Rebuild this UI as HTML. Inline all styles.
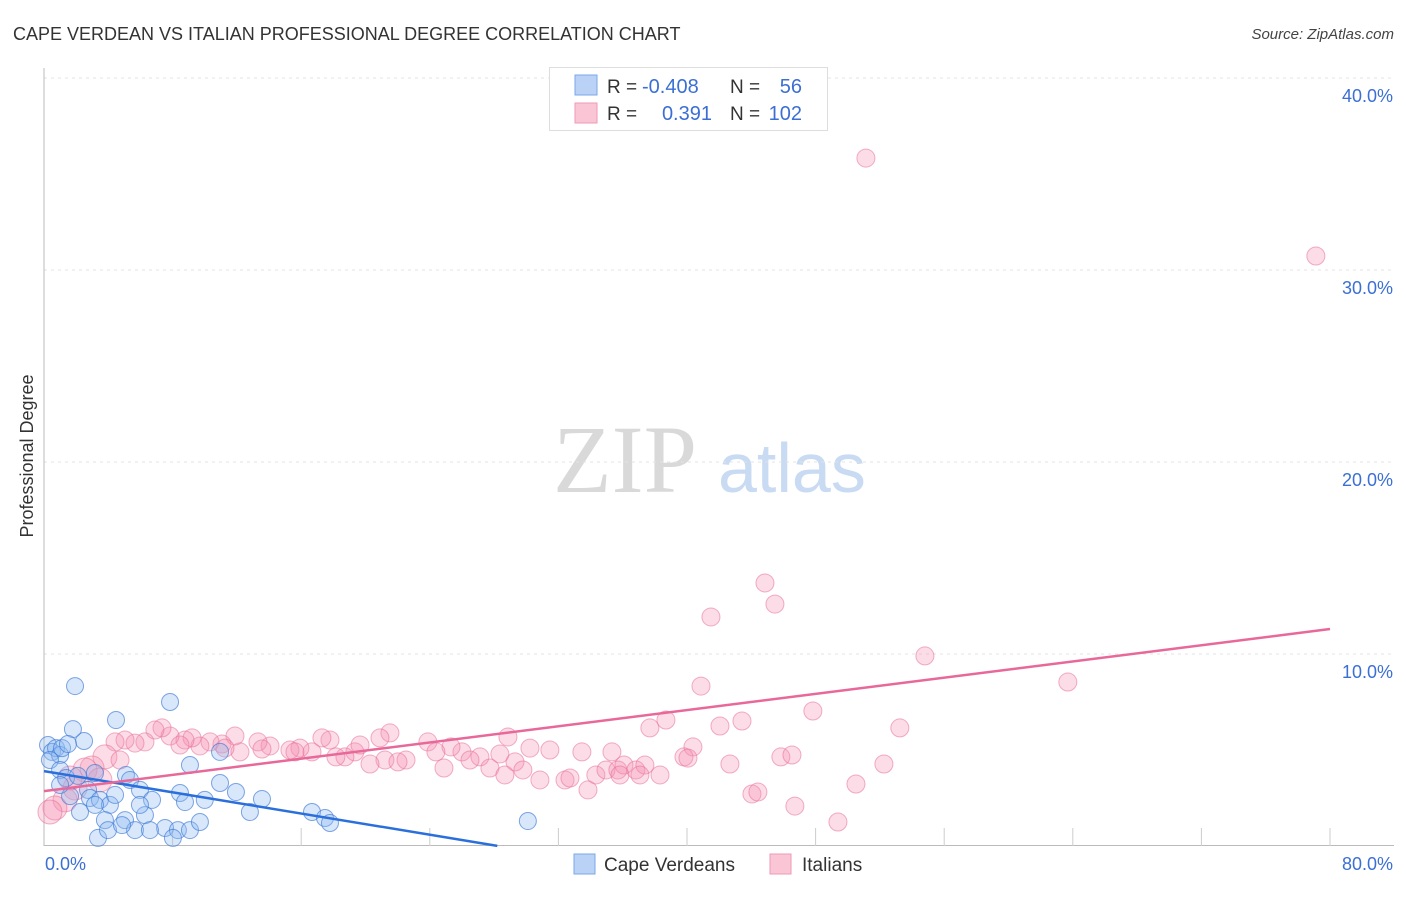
<!DOCTYPE html>
<html><head><meta charset="utf-8"><style>
body{margin:0;background:#fff;font-family:"Liberation Sans",sans-serif;}
svg text{font-family:"Liberation Sans",sans-serif;}
</style></head><body>
<svg id="chart" width="1406" height="892" xmlns="http://www.w3.org/2000/svg">
<text x="13" y="40" font-size="18" fill="#333">CAPE VERDEAN VS ITALIAN PROFESSIONAL DEGREE CORRELATION CHART</text>
<text x="1394" y="39" font-size="15" font-style="italic" fill="#444" text-anchor="end">Source: ZipAtlas.com</text>
<g>
<text x="553" y="492" style="font-family:'Liberation Serif',serif" font-size="96" fill="#d9d9d9">ZIP</text>
<text x="718" y="492" font-size="70" fill="#c9daf3">atlas</text>
</g>
<g id="grid"></g>
<g id="axes"></g>
<g id="pts"></g>
<g id="trends"></g>
<text transform="translate(33,456) rotate(-90)" font-size="18" fill="#333" text-anchor="middle">Professional Degree</text>
<g>
<rect x="549.5" y="67.5" width="278" height="63" fill="#fff" stroke="#ddd"/>
<rect x="575" y="75" width="22" height="20" fill="#b9d2f5" stroke="#7aa7e8"/>
<rect x="575" y="103" width="22" height="20" fill="#fac6d6" stroke="#ef9ab6"/>
<text x="607" y="93" font-size="19" fill="#333">R = </text><text x="642" y="93" font-size="20" fill="#3b6fd4">-0.408</text>
<text x="730" y="93" font-size="19" fill="#333">N = </text><text x="802" y="93" font-size="20" fill="#3b6fd4" text-anchor="end">56</text>
<text x="607" y="120" font-size="19" fill="#333">R = </text><text x="712" y="120" font-size="20" fill="#3b6fd4" text-anchor="end">0.391</text>
<text x="730" y="120" font-size="19" fill="#333">N = </text><text x="802" y="120" font-size="20" fill="#3b6fd4" text-anchor="end">102</text>
</g>
<g>
<rect x="574" y="854" width="21" height="20" fill="#b9d2f5" stroke="#7aa7e8"/>
<text x="604" y="871" font-size="19" fill="#333">Cape Verdeans</text>
<rect x="770" y="854" width="21" height="20" fill="#fac6d6" stroke="#ef9ab6"/>
<text x="802" y="871" font-size="19" fill="#333">Italians</text>
</g>
</svg>
<script>
const yTicks=[10,20,30,40];
const yTickLabels=["10.0%","20.0%","30.0%","40.0%"];
const xEnds=[0,80];
const xEndLabels=["0.0%","80.0%"];
const blueX=[0.25,0.5,0.75,1.0,0.37,1.12,1.93,2.49,1.8,1.49,1.0,1.37,2.11,3.17,2.74,1.62,2.24,2.86,3.48,4.1,4.42,3.79,4.48,5.1,5.35,5.97,6.72,5.04,5.66,6.28,7.84,9.08,8.46,8.77,10.0,10.95,10.95,11.94,12.81,13.56,7.53,8.33,9.08,9.7,8.02,3.36,16.67,17.48,17.79,30.1,3.98,4.85,1.0,3.17,5.97,6.59];
const blueY=[5.26,4.9,5.1,4.74,4.48,5.1,8.33,5.47,6.09,5.31,3.96,3.54,3.65,3.8,2.92,2.6,1.77,2.5,2.4,2.14,2.66,1.35,6.56,3.7,3.44,2.92,2.4,1.35,0.83,1.61,7.5,4.22,2.76,2.29,2.4,4.9,3.28,2.81,1.77,2.45,0.94,0.83,0.83,1.25,0.42,0.42,1.77,1.46,1.2,1.3,0.83,1.09,3.18,2.14,2.14,0.83];
const pinkX=[51.13,79.12,44.85,41.49,45.47,54.8,63.69,40.87,47.83,53.24,43.42,42.05,38.69,37.69,40.37,39.81,33.46,35.33,31.47,30.23,28.86,29.3,27.12,27.74,26.0,24.88,25.32,23.88,22.52,21.52,20.9,21.21,20.28,19.34,18.72,17.79,17.29,16.67,15.92,15.3,14.06,13.31,12.19,11.88,11.07,10.33,9.7,9.21,8.77,7.84,7.34,6.9,6.28,5.66,5.04,4.42,3.79,2.99,2.55,1.93,1.31,0.68,0.37,1.62,3.48,8.46,11.26,13.56,15.61,18.16,19.66,22.02,24.38,26.5,28.36,29.79,30.85,32.41,33.84,34.33,34.96,35.7,36.08,36.82,37.38,38.32,40.06,42.67,44.04,44.41,45.84,46.53,46.71,49.39,50.51,52.25,32.72,37.07,35.83,28.67,4.73];
const pinkY=[35.83,30.73,13.7,11.93,12.6,9.9,8.54,8.33,7.03,6.15,6.51,6.25,6.56,6.15,5.16,4.64,4.9,4.9,5.0,5.1,5.68,4.38,4.64,4.06,4.9,4.06,5.16,5.42,4.48,5.89,5.63,4.48,4.27,4.9,4.64,5.52,5.63,4.9,5.1,5.0,5.21,5.42,4.9,5.73,5.31,5.42,5.21,5.63,5.52,5.73,6.15,6.04,5.42,5.36,5.52,5.42,4.64,4.06,3.96,3.02,2.4,1.98,1.77,3.54,3.44,5.26,5.1,5.05,4.9,4.64,5.26,4.38,4.9,4.48,4.79,3.96,3.44,3.44,2.92,3.7,3.96,3.96,4.22,3.96,4.22,3.7,4.58,4.27,2.71,2.81,4.64,4.74,2.08,1.25,3.23,4.27,3.54,3.7,3.7,3.7,4.48];
const blueTrend=[3.9,-0.138];   // intercept, slope
const pinkTrend=[2.86,0.1055];
const blueTrendRange=[0,28.2];
const pinkTrendRange=[0,80];

const X0=44,X1=1330,Y0=846,PX_PER=19.2;
const sx=v=>X0+(v-xEnds[0])/(xEnds[1]-xEnds[0])*(X1-X0);
const sy=v=>Y0-v*PX_PER;
const NS="http://www.w3.org/2000/svg";
function mk(tag,attrs,parent){const e=document.createElementNS(NS,tag);for(const k in attrs)e.setAttribute(k,attrs[k]);parent.appendChild(e);return e;}
const grid=document.getElementById('grid'),axes=document.getElementById('axes'),pts=document.getElementById('pts'),tr=document.getElementById('trends');
yTicks.forEach((t,i)=>{
  const l=mk('line',{x1:X0,x2:1394,y1:sy(t),y2:sy(t),stroke:'#e3e3e3','stroke-dasharray':'3,4'},grid);
  
  
  const tx=mk('text',{x:1393,y:sy(t)+24,'font-size':18,fill:'#3b6fd4','text-anchor':'end'},grid);
  tx.textContent=yTickLabels[i];
  
  
});
const ya=mk('line',{x1:X0,x2:X0,y1:68,y2:Y0,stroke:'#bbb'},axes);


const xa=mk('line',{x1:X0,x2:1394,y1:Y0-0.5,y2:Y0-0.5,stroke:'#bbb'},axes);


for(let k=1;k<=10;k++){const v=k*8;
  const t=mk('line',{x1:sx(v),x2:sx(v),y1:828,y2:Y0,stroke:'#ccc'},axes);
  
  
}
xEnds.forEach((v,i)=>{
  const t=mk('text',{x:i?1393:45,y:870,'font-size':18,fill:'#3b6fd4','text-anchor':i?'end':'start'},axes);
  t.textContent=xEndLabels[i];
  
  
});
pinkX.forEach((x,i)=>{
  const r=(x<4)?12:9;
  const c=mk('circle',{cx:sx(x),cy:sy(pinkY[i]),r:r,fill:'rgba(244,143,177,0.3)',stroke:'rgba(232,110,150,0.55)','stroke-width':1},pts);
  
  
});
blueX.forEach((x,i)=>{
  const c=mk('circle',{cx:sx(x),cy:sy(blueY[i]),r:8.5,fill:'rgba(144,185,240,0.35)',stroke:'rgba(60,120,215,0.65)','stroke-width':1},pts);
  
  
});
const bl=mk('line',{x1:sx(blueTrendRange[0]),y1:sy(blueTrend[0]+blueTrend[1]*blueTrendRange[0]),x2:sx(blueTrendRange[1]),y2:sy(blueTrend[0]+blueTrend[1]*blueTrendRange[1]),stroke:'#2a6fdb','stroke-width':2.5},tr);


const pl=mk('line',{x1:sx(pinkTrendRange[0]),y1:sy(pinkTrend[0]+pinkTrend[1]*pinkTrendRange[0]),x2:sx(pinkTrendRange[1]),y2:sy(pinkTrend[0]+pinkTrend[1]*pinkTrendRange[1]),stroke:'#e8689a','stroke-width':2.5},tr);


</script>
</body></html>
